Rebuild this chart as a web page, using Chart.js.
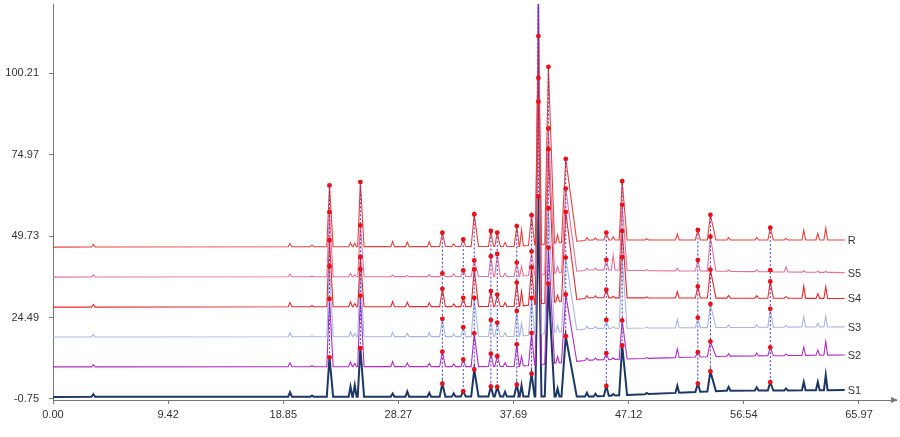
<!DOCTYPE html>
<html>
<head>
<meta charset="utf-8">
<script src="https://cdn.jsdelivr.net/npm/chart.js@4.4.1/dist/chart.umd.min.js"></script>
<style>
  html, body { margin: 0; padding: 0; background: #fff; }
  #wrap { width: 900px; height: 437px; position: relative; }
</style>
</head>
<body>
<div id="wrap"><canvas id="chrom"></canvas></div>
<script>
// traces, bottom to top
var sampleNames = ['S1', 'S2', 'S3', 'S4', 'S5', 'R'];
var sampleColors = ['#1c3766', '#b02cc4', '#a9b6e2', '#e52a2e', '#e8709c', '#e8403c'];

var xTickValues = [0.00, 9.42, 18.85, 28.27, 37.69, 47.12, 56.54, 65.97];
var yTickValues = [-0.75, 24.49, 49.73, 74.97, 100.21];

// baseline of each trace, read at a few retention times (min)
var baseKnotTimes = [0, 38, 44, 55, 64.8];
var baseS1 = [-0.1, 0.0, 0.0, 1.8, 2.0];
var baseS2 = [9.2, 9.3, 11.3, 12.5, 12.9];
var baseS3 = [18.45, 18.6, 21.1, 21.4, 21.6];
var baseS4 = [27.7, 27.9, 30.6, 30.5, 30.4];
var baseS5 = [37.0, 37.2, 39.2, 38.8, 38.4];
var baseR  = [46.3, 46.5, 48.5, 48.5, 48.5];

// matched (marked) peaks: retention time, half width left / right (min)
var markedTimes = [22.63, 25.16, 31.87, 33.58, 34.48, 35.84, 36.36, 37.96, 39.17, 39.73, 40.55, 41.97, 45.29, 46.59, 52.78, 53.81, 58.71];
var markedLeft  = [0.22, 0.22, 0.22, 0.2, 0.25, 0.2, 0.2, 0.22, 0.25, 0.25, 0.3, 0.35, 0.2, 0.25, 0.2, 0.25, 0.2];
var markedRight = [0.3, 0.3, 0.25, 0.2, 0.35, 0.22, 0.25, 0.2, 0.25, 0.25, 0.5, 0.9, 0.2, 0.4, 0.2, 0.45, 0.25];
// peak heights above baseline
var heightS1 = [12.2, 15.0, 4.0, 1.7, 8.4, 3.1, 3.0, 3.7, 7.1, 62.0, 35.0, 18.7, 3.1, 15.4, 2.6, 6.2, 2.6];
var heightS2 = [21.0, 22.0, 4.6, 2.2, 10.3, 4.0, 3.2, 6.9, 10.0, 118.0, 36.0, 21.0, 2.0, 12.0, 1.5, 4.7, 2.6];
var heightS3 = [21.8, 20.9, 5.5, 2.9, 12.0, 5.1, 4.3, 7.9, 11.5, 72.0, 38.7, 22.8, 2.6, 22.0, 3.1, 7.3, 5.7];
var heightS4 = [20.6, 15.4, 5.5, 2.7, 11.5, 4.8, 3.7, 7.4, 11.6, 70.0, 47.6, 27.5, 2.5, 20.7, 3.6, 8.8, 5.2];
var heightS5 = [20.0, 15.9, 1.0, 1.9, 5.0, 6.3, 7.0, 4.3, 7.4, 90.0, 45.0, 25.9, 3.2, 20.3, 3.4, 10.7, 0.5];
var heightR  = [19.0, 20.0, 4.3, 2.2, 10.0, 4.8, 4.3, 6.3, 9.3, 64.6, 54.8, 25.8, 2.3, 18.2, 3.1, 7.8, 3.8];

// small unmarked peaks
var minorTimes = [3.3, 19.4, 21.2, 24.35, 24.7, 27.8, 29.0, 30.8, 32.8, 37.0, 38.35, 41.3, 43.7, 44.4, 45.85, 48.6, 51.1, 55.3, 57.6, 60.0, 61.45, 62.6, 63.25];
var minorS1 = [0.8, 1.4, 0.3, 3.2, 3.6, 1.0, 1.6, 1.2, 1.0, 1.5, 3.5, 2.5, 1.2, 0.8, 0.5, 0.4, 2.2, 1.2, 1.0, 0.6, 2.6, 2.6, 4.7];
var minorS2 = [0.7, 1.2, 0.3, 1.5, 1.0, 1.6, 1.2, 1.0, 0.8, 1.2, 3.0, 2.0, 0.8, 0.6, 0.5, 0.3, 2.7, 0.8, 0.9, 0.5, 2.6, 1.6, 4.2];
var minorS3 = [0.8, 1.2, 0.3, 1.6, 1.0, 1.4, 1.0, 1.2, 0.8, 1.2, 4.0, 2.0, 0.8, 0.6, 0.5, 0.3, 2.6, 0.8, 0.8, 0.5, 3.3, 1.2, 3.3];
var minorS4 = [0.8, 1.3, 0.4, 1.5, 1.0, 1.6, 1.4, 1.2, 0.8, 1.2, 4.5, 2.0, 0.8, 0.6, 0.5, 0.3, 2.0, 0.8, 0.8, 0.5, 3.8, 1.5, 3.6];
var minorS5 = [0.7, 0.8, 0.2, 1.0, 0.5, 0.5, 0.4, 0.6, 0.8, 1.0, 3.0, 2.0, 0.6, 0.6, 4.7, 0.3, 0.8, 0.5, 0.6, 1.6, 0.5, 0.3, 0.3];
var minorR  = [0.8, 1.0, 0.5, 1.2, 1.0, 1.6, 1.4, 1.5, 0.8, 1.2, 5.0, 2.5, 0.8, 0.6, 1.0, 0.4, 1.8, 0.8, 0.8, 0.5, 3.0, 2.0, 3.7];
var minorHalfWidth = 0.15;
var runEnd = 64.8;

var bases = [baseS1, baseS2, baseS3, baseS4, baseS5, baseR];
var heights = [heightS1, heightS2, heightS3, heightS4, heightS5, heightR];
var minors = [minorS1, minorS2, minorS3, minorS4, minorS5, minorR];

function baseAt(knots, t) {
  for (var i = 1; i < baseKnotTimes.length; i++) {
    if (t <= baseKnotTimes[i]) {
      var t0 = baseKnotTimes[i - 1], t1 = baseKnotTimes[i];
      return knots[i - 1] + (t - t0) / (t1 - t0) * (knots[i] - knots[i - 1]);
    }
  }
  return knots[knots.length - 1];
}

// polyline for one trace: baseline knots plus a foot-apex-foot for each peak
function buildTrace(k) {
  var knots = bases[k];
  var peaks = [];
  markedTimes.forEach(function (t, i) {
    peaks.push({ t: t, h: heights[k][i], l: markedLeft[i], r: markedRight[i] });
  });
  minorTimes.forEach(function (t, i) {
    peaks.push({ t: t, h: minors[k][i], l: minorHalfWidth, r: minorHalfWidth });
  });
  peaks.sort(function (a, b) { return a.t - b.t; });
  var pts = [{ x: 0, y: knots[0] }];
  var ki = 1;
  peaks.forEach(function (p) {
    while (ki < baseKnotTimes.length - 1 && baseKnotTimes[ki] < p.t - p.l) {
      pts.push({ x: baseKnotTimes[ki], y: knots[ki] });
      ki++;
    }
    pts.push({ x: p.t - p.l, y: baseAt(knots, p.t - p.l) });
    pts.push({ x: p.t, y: baseAt(knots, p.t) + p.h });
    pts.push({ x: p.t + p.r, y: baseAt(knots, p.t + p.r) });
  });
  pts.push({ x: runEnd, y: baseAt(knots, runEnd) });
  return pts;
}

var datasets = [];

// red markers on matched peaks
var markerPts = [];
sampleNames.forEach(function (n, k) {
  markedTimes.forEach(function (t, i) {
    markerPts.push({ x: t, y: baseAt(bases[k], t) + heights[k][i] });
  });
});
datasets.push({
  label: 'marks', data: markerPts, showLine: false,
  pointRadius: 2.4, pointBackgroundColor: '#e8101a', pointBorderColor: '#e8101a', pointBorderWidth: 0
});

// dashed links between the same peak in each trace
markedTimes.forEach(function (t, i) {
  datasets.push({
    label: 'link' + i,
    data: sampleNames.map(function (n, k) { return { x: t, y: baseAt(bases[k], t) + heights[k][i] }; }),
    borderColor: '#3a3acc', borderWidth: 1, borderDash: [2, 2], pointRadius: 0
  });
});

// traces, top one first so it is drawn on top
for (var k = sampleNames.length - 1; k >= 0; k--) {
  datasets.push({
    label: sampleNames[k],
    data: buildTrace(k),
    borderColor: sampleColors[k],
    borderWidth: k === 0 ? 2 : 1.1,
    pointRadius: 0,
    tension: 0,
    isTrace: true
  });
}

var endLabels = {
  id: 'endLabels',
  afterDraw: function (chart) {
    var ctx = chart.ctx;
    ctx.save();
    ctx.font = '11px "Liberation Sans"';
    ctx.fillStyle = '#333';
    ctx.textBaseline = 'middle';
    chart.data.datasets.forEach(function (ds, i) {
      if (!ds.isTrace) return;
      var pts = chart.getDatasetMeta(i).data;
      var last = pts[pts.length - 1];
      ctx.fillText(ds.label, last.x + 3, last.y + 1);
    });
    // arrow at end of the x axis
    var a = chart.chartArea;
    ctx.fillStyle = '#777';
    ctx.beginPath();
    ctx.moveTo(a.right + 2, a.bottom);
    ctx.lineTo(a.right - 5, a.bottom - 3);
    ctx.lineTo(a.right - 5, a.bottom + 3);
    ctx.closePath();
    ctx.fill();
    ctx.restore();
  }
};

new Chart(document.getElementById('chrom'), {
  type: 'line',
  data: { datasets: datasets },
  options: {
    responsive: true,
    maintainAspectRatio: false,
    animation: false,
    layout: { padding: { right: 3, top: 0, left: 0, bottom: 0 } },
    plugins: { legend: { display: false }, tooltip: { enabled: false } },
    scales: {
      x: {
        type: 'linear', min: 0, max: 69.0,
        afterBuildTicks: function (s) { s.ticks = xTickValues.map(function (v) { return { value: v }; }); },
        afterFit: function (s) { s.height = 37; s.paddingLeft = 0; s.paddingRight = 0; },
        ticks: {
          color: '#333', font: { size: 11, family: 'Liberation Sans' }, padding: 4, maxRotation: 0,
          callback: function (v) { return Number(v).toFixed(2); }
        },
        grid: { drawOnChartArea: false, drawTicks: true, tickLength: 4, color: '#777' },
        border: { display: true, color: '#777', width: 1 }
      },
      y: {
        type: 'linear', min: -1.06, max: 121.6,
        afterBuildTicks: function (s) { s.ticks = yTickValues.map(function (v) { return { value: v }; }); },
        afterFit: function (s) { s.width = 53; s.paddingTop = 0; s.paddingBottom = 0; },
        ticks: {
          color: '#333', font: { size: 11, family: 'Liberation Sans' }, padding: 10,
          callback: function (v) { return Number(v).toFixed(2); }
        },
        grid: { drawOnChartArea: false, drawTicks: true, tickLength: 4, color: '#777' },
        border: { display: true, color: '#777', width: 1 }
      }
    }
  },
  plugins: [endLabels]
});
</script>
</body>
</html>
